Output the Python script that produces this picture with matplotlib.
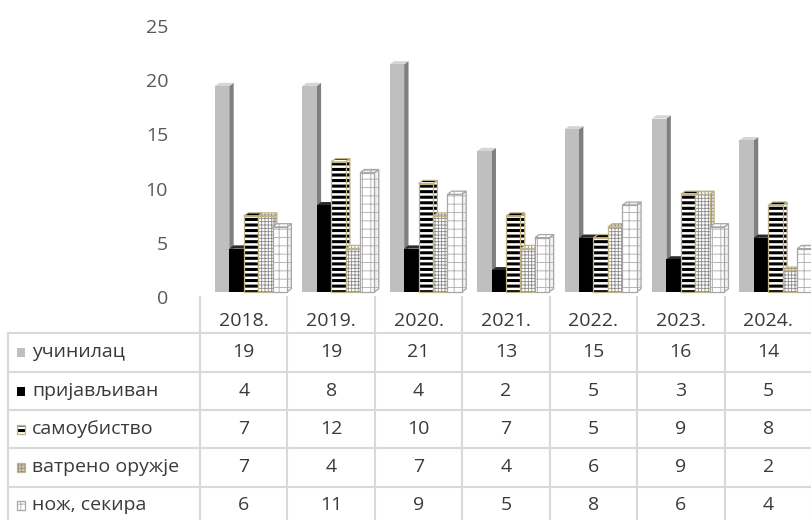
import matplotlib
matplotlib.use("Agg")
import matplotlib.pyplot as plt
import matplotlib.transforms as mtransforms
from matplotlib.patches import Polygon

years = ["2018.", "2019.", "2020.", "2021.", "2022.", "2023.", "2024."]
series_names = ["учинилац", "пријављиван", "самоубиство", "ватрено оружје", "нож, секира"]
uchinilac = [19, 19, 21, 13, 15, 16, 14]
prijavljivan = [4, 8, 4, 2, 5, 3, 5]
samoubistvo = [7, 12, 10, 7, 5, 9, 8]
vatreno = [7, 4, 7, 4, 6, 9, 2]
noz = [6, 11, 9, 5, 8, 6, 4]
y_ticks = [0, 5, 10, 15, 20, 25]

all_series = [uchinilac, prijavljivan, samoubistvo, vatreno, noz]

TAN = "#c2b383"
GRID_CLR = "#d9d9d9"
TXT = "#3a3a3a"
FS = 14

# looks per series: front, side, top, hatch, hatch color, hatch lw, edge
styles = [
    dict(face="#bfbfbf", side="#7f7f7f", top="#d6d6d6", hatch=None, hc=None, hlw=0, edge=None),
    dict(face="#000000", side="#000000", top="#2a2a2a", hatch=None, hc=None, hlw=0, edge=None),
    dict(face="white", side="white", top="white", hatch="---", hc="black", hlw=2.2, edge=TAN),
    dict(face="white", side="#e6e6e6", top="white", hatch="+++++", hc="#8a8a8a", hlw=0.6, edge=TAN),
    dict(face="white", side="#f2f2f2", top="white", hatch="++", hc="#b5b5b5", hlw=0.7, edge="#a6a6a6"),
]

plt.rcParams["font.family"] = ["Open Sans", "DejaVu Sans"]

W, H = 812, 520
fig = plt.figure(figsize=(W / 100, H / 100), dpi=100)

ax = fig.add_axes([200 / W, (H - 297) / H, 612 / W, (297 - 26) / H])
ax.set_xlim(0, len(years))
ax.set_ylim(0, 25)
ax.set_yticks(y_ticks)
ax.set_yticklabels([str(t) for t in y_ticks], fontsize=FS, color="#595959")
ax.tick_params(axis="y", length=0, pad=23)
ax.set_xticks([])
for s in ax.spines.values():
    s.set_visible(False)
ax.patch.set_visible(False)


def hatched_poly(ax, pts, face, hatch, hc, hlw, edge, trans, z):
    with plt.rc_context({"hatch.linewidth": hlw if hlw else 1.0}):
        p = Polygon(pts, closed=True, facecolor=face, edgecolor=hc if hatch else face,
                    linewidth=0, hatch=hatch, transform=trans, zorder=z)
        if hatch and hasattr(p, "set_hatch_linewidth"):
            p.set_hatch_linewidth(hlw)
        ax.add_patch(p)
    if edge:
        ax.add_patch(Polygon(pts, closed=True, fill=False, edgecolor=edge,
                             linewidth=0.9, transform=trans, zorder=z + 0.01))


# pseudo 3D columns: front face, right side and top
shift = mtransforms.ScaledTranslation(0, 5 / 100, fig.dpi_scale_trans)
trans = ax.transData + shift
bar_w = 0.165
left_pad = 0.17
dx, dy = 0.05, 0.3

z = 2
for i in range(len(years)):
    for k, vals in enumerate(all_series):
        st = styles[k]
        v = vals[i]
        x0 = i + left_pad + k * bar_w
        x1 = x0 + bar_w
        side = [(x1, 0), (x1 + dx, dy), (x1 + dx, v + dy), (x1, v)]
        top = [(x0, v), (x0 + dx, v + dy), (x1 + dx, v + dy), (x1, v)]
        front = [(x0, 0), (x1, 0), (x1, v), (x0, v)]
        hatched_poly(ax, side, st["side"], st["hatch"], st["hc"], st["hlw"], st["edge"], trans, z)
        hatched_poly(ax, top, st["top"], st["hatch"], st["hc"], st["hlw"], st["edge"], trans, z + 0.1)
        hatched_poly(ax, front, st["face"], st["hatch"], st["hc"], st["hlw"], st["edge"], trans, z + 0.2)
        z += 1

# data table under the chart
tab = fig.add_axes([0, 0, 1, 1], zorder=-1)
tab.set_xlim(0, W)
tab.set_ylim(H, 0)
tab.axis("off")

col_x = mtransforms.blended_transform_factory(ax.transData, tab.transData)

row_lines = [333, 372, 410, 448, 487]
row_text_y = [352, 391, 429, 467, 505]
for y in row_lines:
    tab.plot([8, W], [y, y], color=GRID_CLR, lw=1.5)
tab.plot([8, 8], [333, H], color=GRID_CLR, lw=1.5)
for i in range(len(years) + 1):
    tab.plot([i, i], [297, H], color=GRID_CLR, lw=1.5, transform=col_x)

for i, yr in enumerate(years):
    tab.text(i + 0.5, 321, yr, ha="center", va="center", fontsize=FS,
             color=TXT, transform=col_x)

for k, vals in enumerate(all_series):
    st = styles[k]
    y = row_text_y[k]
    # legend key
    key = [(17, y - 4.5), (25, y - 4.5), (25, y + 4.5), (17, y + 4.5)]
    kface = st["face"]
    if k == 3:
        kface = "#d6cca6"
    hatched_poly(tab, key, kface, st["hatch"], st["hc"], st["hlw"], st["edge"],
                 tab.transData, 3)
    tab.text(32, y, series_names[k], ha="left", va="center", fontsize=FS, color=TXT)
    for i, v in enumerate(vals):
        tab.text(i + 0.5, y, str(v), ha="center", va="center", fontsize=FS,
                 color=TXT, transform=col_x)

fig.savefig("out.png", dpi=100)
